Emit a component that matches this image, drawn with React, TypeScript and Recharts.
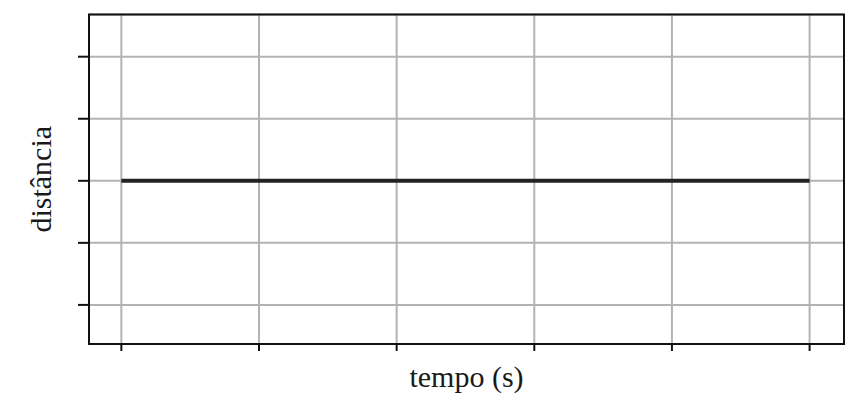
import React from "react";
import {
  LineChart,
  Line,
  XAxis,
  YAxis,
  CartesianGrid,
  ReferenceArea,
} from "recharts";

// tempo ticks (s) and the constant distance reading
const tempo = [0, 1, 2, 3, 4, 5];
const distancia = [3, 3, 3, 3, 3, 3];
const yTicks = [1, 2, 3, 4, 5];

// axis extents (a bit of padding around the ticks, like the original frame)
const xDomain = [-0.235, 5.25];
const yDomain = [0.37, 5.68];

const data = tempo.map((t, i) => ({ t, d: distancia[i] }));

const font = "'Liberation Serif', 'Times New Roman', serif";

const XLabel = ({ viewBox }: any) => (
  <text
    x={viewBox.x + viewBox.width / 2}
    y={387}
    textAnchor="middle"
    fontFamily={font}
    fontSize={30}
    fill="#1a1a1a"
  >
    tempo (s)
  </text>
);

const YLabel = ({ viewBox }: any) => {
  const cx = 51;
  const cy = viewBox.y + viewBox.height / 2;
  return (
    <text
      x={cx}
      y={cy}
      transform={`rotate(-90, ${cx}, ${cy})`}
      textAnchor="middle"
      fontFamily={font}
      fontSize={30}
      fill="#1a1a1a"
    >
      distância
    </text>
  );
};

export default function App() {
  return (
    <div style={{ position: "absolute", left: 0, top: 0, background: "#fff" }}>
      <LineChart
        width={855}
        height={402}
        data={data}
        margin={{ top: 14.5, right: 11, bottom: 0, left: 0 }}
      >
        <CartesianGrid stroke="#b3b3b3" strokeWidth={2} />
        <XAxis
          dataKey="t"
          type="number"
          domain={xDomain}
          ticks={tempo}
          height={58}
          axisLine={false}
          tickSize={7}
          tickLine={{ stroke: "#111", strokeWidth: 2 }}
          tickFormatter={() => ""}
          label={<XLabel />}
        />
        <YAxis
          type="number"
          domain={yDomain}
          ticks={yTicks}
          width={89}
          axisLine={false}
          tickSize={11}
          tickLine={{ stroke: "#111", strokeWidth: 2 }}
          tickFormatter={() => ""}
          label={<YLabel />}
        />
        <ReferenceArea
          x1={xDomain[0]}
          x2={xDomain[1]}
          y1={yDomain[0]}
          y2={yDomain[1]}
          fill="none"
          stroke="#111"
          strokeWidth={2}
        />
        <Line
          dataKey="d"
          stroke="#222"
          strokeWidth={4}
          dot={false}
          isAnimationActive={false}
        />
      </LineChart>
    </div>
  );
}
